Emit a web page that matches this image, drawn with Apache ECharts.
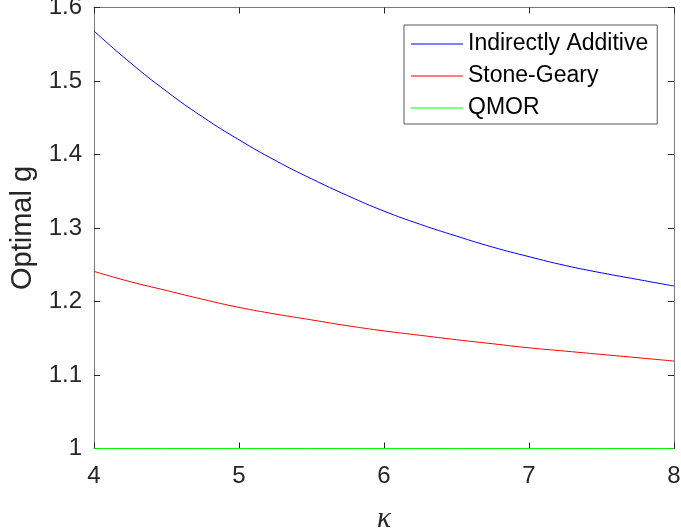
<!DOCTYPE html>
<html>
<head>
<meta charset="utf-8">
<script src="https://cdn.jsdelivr.net/npm/echarts@6/dist/echarts.min.js"></script>
<style>html,body{margin:0;padding:0;background:#fff}#c{width:681px;height:531px}</style>
</head>
<body>
<div id="c"></div>
<script>
const kappa = [4, 4.25, 4.5, 4.75, 5, 5.25, 5.5, 5.75, 6, 6.25, 6.5, 6.75, 7, 7.25, 7.5, 7.75, 8];
const indirectlyAdditive = [1.568, 1.525, 1.486, 1.451, 1.420, 1.392, 1.367, 1.344, 1.323, 1.305, 1.289, 1.274, 1.261, 1.249, 1.239, 1.230, 1.221];
const stoneGeary = [1.241, 1.227, 1.215, 1.203, 1.192, 1.183, 1.175, 1.167, 1.160, 1.154, 1.148, 1.1425, 1.137, 1.1325, 1.128, 1.1235, 1.119];
const qmor = [1, 1, 1, 1, 1, 1, 1, 1, 1, 1, 1, 1, 1, 1, 1, 1, 1];
const seriesNames = ['Indirectly Additive', 'Stone-Geary', 'QMOR'];
const seriesColors = ['#0000ff', '#ff0000', '#00ff00'];
const xTicks = [4, 5, 6, 7, 8];
const yTicks = [1, 1.1, 1.2, 1.3, 1.4, 1.5, 1.6];

const pair = (ys) => kappa.map((k, i) => [k, ys[i]]);
const allY = [indirectlyAdditive, stoneGeary, qmor];

const axisLineColor = '#7a7a7a';
const labelColor = '#262626';
const font = 'Liberation Sans, Arial, sans-serif';

const chart = echarts.init(document.getElementById('c'), null, {renderer: 'canvas'});
const baseX = {
  type: 'value', min: xTicks[0], max: xTicks[xTicks.length - 1], interval: 1,
  axisLine: {show: true, lineStyle: {color: axisLineColor, width: 1}},
  axisTick: {show: true, inside: true, length: 6, lineStyle: {color: labelColor}},
  splitLine: {show: false}
};
const baseY = {
  type: 'value', min: yTicks[0], max: yTicks[yTicks.length - 1], interval: 0.1,
  axisLine: {show: true, lineStyle: {color: axisLineColor, width: 1}},
  axisTick: {show: true, inside: true, length: 6, lineStyle: {color: labelColor}},
  splitLine: {show: false}
};
chart.setOption({
  animation: false,
  backgroundColor: '#ffffff',
  grid: {left: 94, right: 7, top: 7.5, bottom: 82.5, containLabel: false, outerBoundsMode: 'none'},
  xAxis: [
    Object.assign({}, baseX, {
      position: 'bottom',
      axisLabel: {show: true, color: labelColor, fontSize: 24, fontFamily: font, margin: 16},
      name: 'κ', nameLocation: 'middle', nameGap: 56,
      nameTextStyle: {fontSize: 29, fontStyle: 'italic', fontFamily: 'Liberation Serif, Times New Roman, serif', color: labelColor}
    }),
    Object.assign({}, baseX, {position: 'top', axisLabel: {show: false}})
  ],
  yAxis: [
    Object.assign({}, baseY, {
      position: 'left',
      axisLabel: {show: true, color: labelColor, fontSize: 24, fontFamily: font, margin: 12},
      name: 'Optimal g', nameLocation: 'middle', nameGap: 51,
      nameTextStyle: {fontSize: 29, fontFamily: font, color: labelColor}
    }),
    Object.assign({}, baseY, {position: 'right', axisLabel: {show: false}})
  ],
  legend: {
    show: true, orient: 'vertical', left: 404, top: 25,
    padding: [6, 9, 3, 7],
    icon: 'rect',
    itemWidth: 52, itemHeight: 1, itemGap: 6,
    borderColor: '#5a5a5a', borderWidth: 1, backgroundColor: '#ffffff',
    textStyle: {fontSize: 23, lineHeight: 26, fontFamily: font, color: '#000000'},
    data: seriesNames.map((n, i) => ({name: n, itemStyle: {color: seriesColors[i]}}))
  },
  series: seriesNames.map((n, i) => ({
    name: n, type: 'line', data: pair(allY[i]), smooth: true, symbol: 'none', showSymbol: false,
    lineStyle: {color: seriesColors[i], width: 1}, itemStyle: {color: seriesColors[i]},
    z: 3 + i
  }))
});
</script>
</body>
</html>
